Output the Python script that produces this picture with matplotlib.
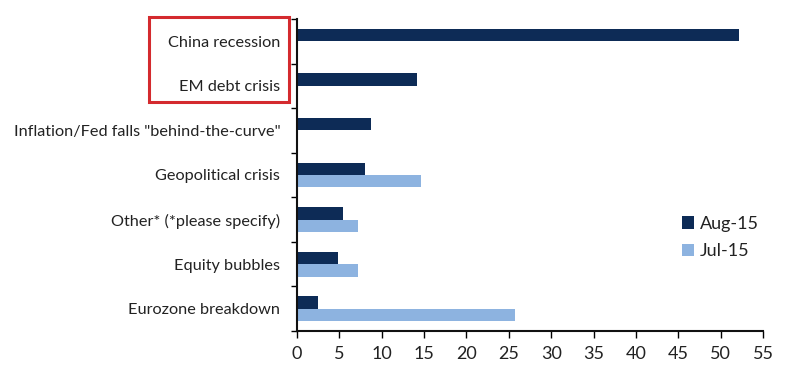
import numpy as np
import matplotlib.pyplot as plt
from matplotlib.patches import Rectangle

plt.rcParams['font.family'] = ['Lato', 'DejaVu Sans']

categories = ['China recession', 'EM debt crisis',
              'Inflation/Fed falls "behind-the-curve"', 'Geopolitical crisis',
              'Other* (*please specify)', 'Equity bubbles', 'Eurozone breakdown']
aug15 = [52.2, 14.2, 8.7, 8.0, 5.5, 4.9, 2.5]
jul15 = [0, 0, 0, 14.6, 7.2, 7.2, 25.7]
xticks = np.arange(0, 60, 5)

navy = "#0d2b56"
light = "#8db3e0"

fig = plt.figure(figsize=(8, 3.68), dpi=100)
ax = fig.add_axes([0.371, 0.101, 0.583, 0.847])

y = np.arange(len(categories))
h = 0.28
ax.barh(y - h / 2, aug15, height=h, color=navy, label="Aug-15")
ax.barh(y + h / 2, jul15, height=h, color=light, label="Jul-15")

ax.set_ylim(len(categories) - 0.5, -0.5)
ax.set_xlim(0, 55)
ax.set_xticks(xticks)
ax.set_yticks(y)
ax.set_yticklabels(categories, fontsize=11.7, color="#222222")
ax.set_yticks(np.arange(-0.5, len(categories)), minor=True)
ax.tick_params(axis='y', which='major', length=0, pad=12)
ax.tick_params(axis='y', which='minor', length=4, width=1, direction='out')
ax.tick_params(axis='x', length=5, width=1, direction='out', labelsize=13,
               labelcolor="#222222", pad=6)

for s in ['top', 'right']:
    ax.spines[s].set_visible(False)
for s in ['left', 'bottom']:
    ax.spines[s].set_linewidth(1.5)
    ax.spines[s].set_color("#111111")

ax.legend(loc='upper left', bbox_to_anchor=(0.825, 0.37), frameon=False,
          fontsize=13, handlelength=0.7, handleheight=0.7, handletextpad=0.3,
          labelspacing=0.65, labelcolor="#222222", borderaxespad=0, borderpad=0)

fig.patches.append(Rectangle((149 / 800, 1 - 102 / 368), 140 / 800, 85 / 368,
                             transform=fig.transFigure, fill=False,
                             edgecolor="#d42a2e", linewidth=2.2))

plt.savefig("out.png", dpi=100)
